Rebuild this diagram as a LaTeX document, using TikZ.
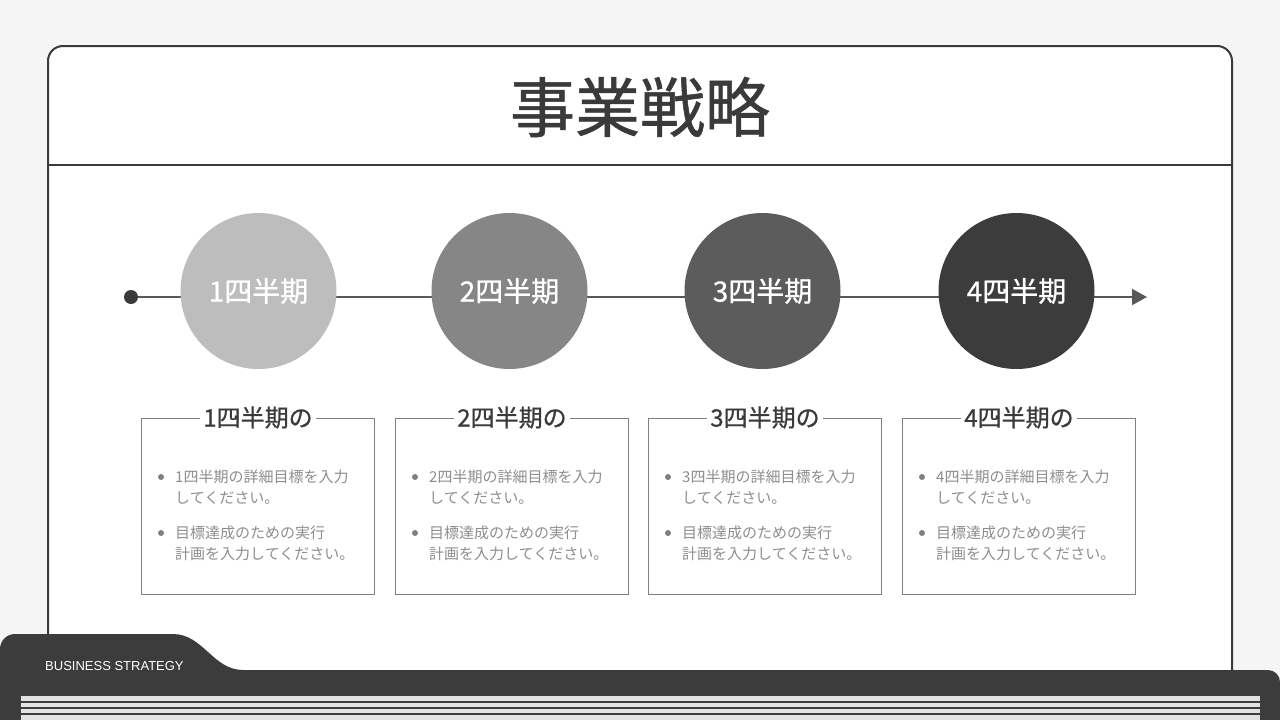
\documentclass[tikz,border=0pt]{standalone}
\usepackage{fontspec}
\setmainfont{Noto Sans CJK JP}
\newfontfamily\medfont[FakeBold=0.8]{Noto Sans CJK JP}
\newfontfamily\labelfont{Liberation Sans}
\usetikzlibrary{arrows.meta,positioning}

\definecolor{pagebg}{HTML}{F5F5F5}
\definecolor{ink}{HTML}{3A3A3A}
\definecolor{bodygray}{HTML}{8E8E8E}
\definecolor{rulegray}{HTML}{808080}
\definecolor{qa}{HTML}{BDBDBD}
\definecolor{qb}{HTML}{868686}
\definecolor{qc}{HTML}{5C5C5C}
\definecolor{qd}{HTML}{3C3C3C}
\definecolor{stripe}{HTML}{E2E2E2}

\tikzset{
  card/.style={draw=ink, fill=white, line width=2pt, rounded corners=15pt},
  axis/.style={draw=ink!85, line width=2pt, -{Triangle[length=15pt,width=16pt]}},
  dot/.style={circle, fill=ink, minimum size=14pt, inner sep=0pt},
  phase/.style={circle, minimum size=156pt, inner sep=0pt, text=white,
    font=\medfont\fontsize{28}{32}\selectfont},
  goalbox/.style={draw=rulegray, line width=1pt, minimum width=233pt,
    minimum height=176pt, inner sep=0pt},
  boxhead/.style={fill=white, text=ink, inner xsep=3pt, inner ysep=0pt,
    font=\medfont\fontsize{24}{28}\selectfont},
  bullet/.style={circle, fill=rulegray, minimum size=6pt, inner sep=0pt},
  itemtext/.style={anchor=west, align=left, inner sep=0pt, text=bodygray,
    font=\fontsize{15}{21}\selectfont}
}

\begin{document}
\begin{tikzpicture}[x=1pt,y=-1pt]
  \fill[pagebg] (0,0) rectangle (1280,720);
  \useasboundingbox (0,0) rectangle (1280,720);

  % card and title
  \draw[card] (48,46) rectangle (1232,710);
  \draw[ink, line width=1.5pt] (48,165) -- (1232,165);
  \node[text=ink, font=\medfont\fontsize{65}{70}\selectfont] (title) at (640,107) {事業戦略};

  % timeline
  \node[dot] (start) at (131,297) {};
  \coordinate (end) at (1147,297);
  \draw[axis] (start) -- (end);

  \foreach \i/\cx/\bx/\c in {1/258.5/258/qa, 2/509.5/512/qb, 3/762.5/765/qc, 4/1016.5/1019/qd} {
    \node[phase, fill=\c] (q\i) at (\cx,291) {\i{}四半期};
    \node[goalbox] (box\i) at (\bx,506) {};
    \node[boxhead] (head\i) at (box\i.north) {\i{}四半期の};
    \node[bullet] (dot\i a) at (\bx-97,477) {};
    \node[itemtext] (item\i a) at (\bx-83,487) {\i{}四半期の詳細目標を入力\\してください。};
    \node[bullet] (dot\i b) at (\bx-97,533) {};
    \node[itemtext] (item\i b) at (\bx-83,543) {目標達成のための実行\\計画を入力してください。};
  }

  % bottom band
  \fill[qd] (0,720) -- (0,649) .. controls (0,640.7) and (6.7,634) .. (15,634)
    -- (173,634) .. controls (203,634) and (213,670) .. (243,670)
    -- (1268,670) .. controls (1274.6,670) and (1280,675.4) .. (1280,682)
    -- (1280,720) -- cycle;
  \node[anchor=west, text=white, inner sep=0pt, font=\labelfont\fontsize{13}{15}\selectfont]
    (tag) at (45,666) {BUSINESS STRATEGY};
  \fill[stripe] (21,696) rectangle (1260,720);
  \foreach \y in {702,708,714}
    \draw[qd, line width=1.2pt] (21,\y) -- (1260,\y);
\end{tikzpicture}
\end{document}
